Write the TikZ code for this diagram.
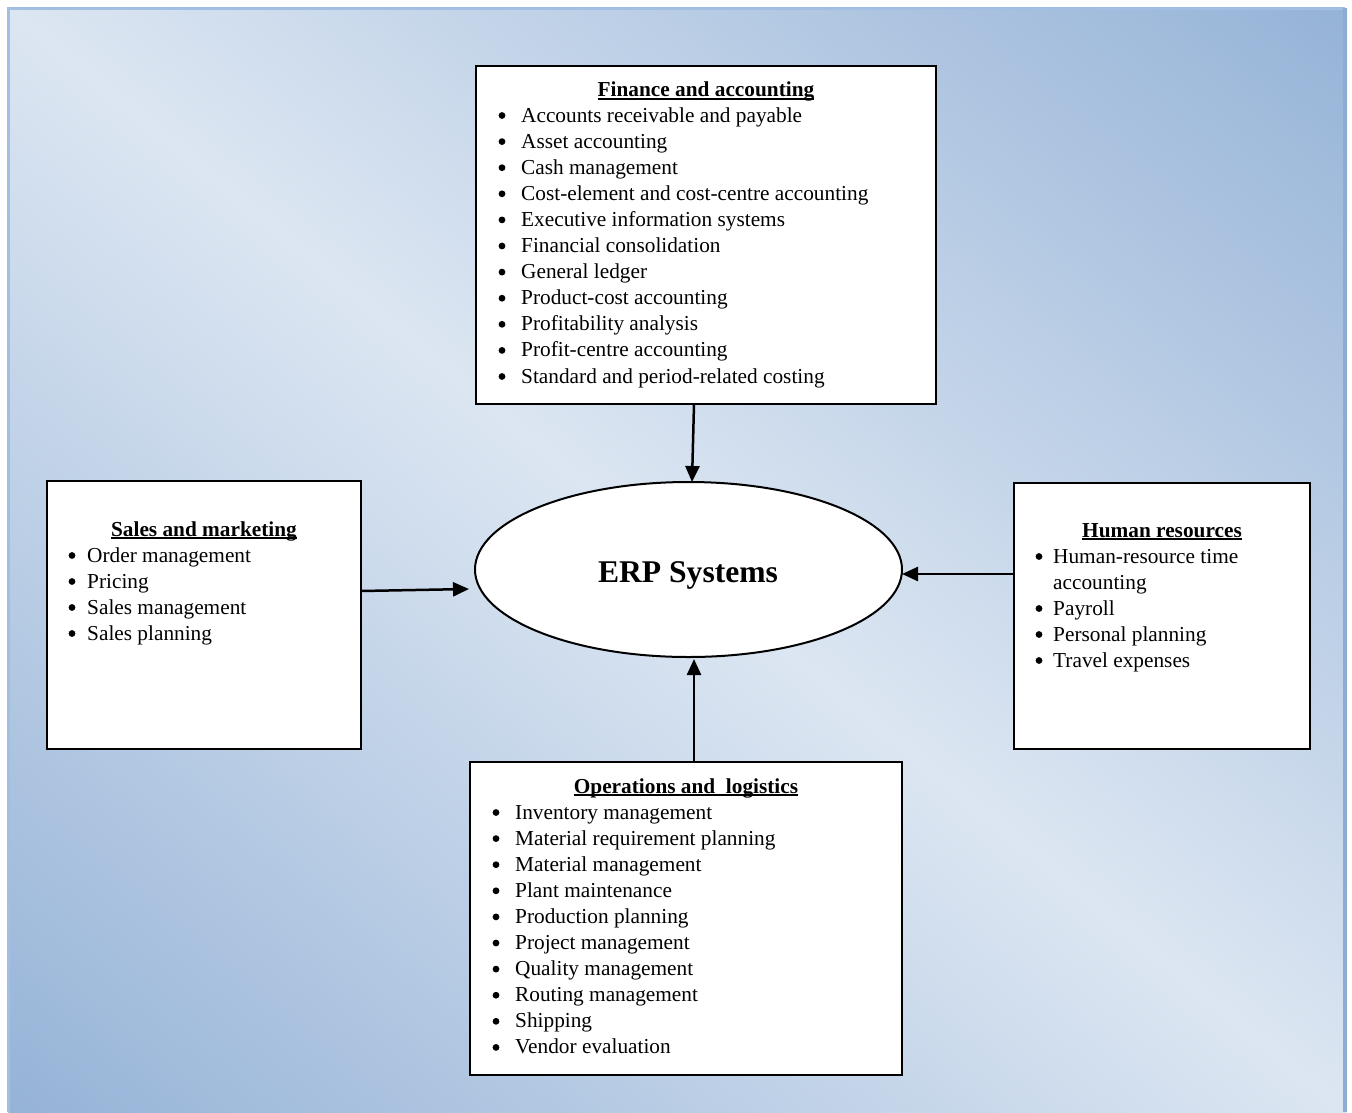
\documentclass[tikz,border=0pt]{standalone}
\usepackage{fontspec}
\setmainfont{Liberation Serif}
\usetikzlibrary{arrows.meta,shapes.geometric,calc}
\definecolor{bgdark}{HTML}{95B3D7}
\definecolor{bglight}{HTML}{DCE6F2}
\definecolor{bgedge}{HTML}{A2BEE2}
\definecolor{bgedgeR}{HTML}{8EABD3}
\newcommand\ulttl[1]{\leavevmode\setbox0\hbox{#1}\rlap{\rule[-3pt]{\wd0}{1.6pt}}\box0}
\begin{document}
\begin{tikzpicture}[x=1pt,y=-1pt,
  txt/.style={font=\fontsize{21.3pt}{26pt}\selectfont, inner sep=0pt},
  item/.style={txt, anchor=base west},
  ttl/.style={inner sep=0pt, anchor=base, font=\fontsize{21.3pt}{26pt}\selectfont\bfseries},
  panel/.style={draw=black, line width=2pt, fill=white, rectangle, inner sep=0pt, outer sep=0pt, anchor=north west},
  dot/.style={fill=black},
  link/.style={line width=2.5pt, -{Triangle[length=16pt,width=14pt]}}]

\useasboundingbox (0,0) rectangle (1352,1112);
\begin{scope}
  \clip (8,8) rectangle (1347,1112);
  \begin{scope}[transform canvas={rotate around={-39.5:(677.5,560)}}]
    \shade[top color=bgdark, bottom color=bgdark, middle color=bglight] (-202.5,-292) rectangle (1557.5,1412);
  \end{scope}
\end{scope}
\draw[bgedge, line width=3pt] (8,1112) -- (8,8) -- (1345,8);
\draw[bgedgeR, line width=4pt] (1345,8) -- (1345,1112);

% panels
\node[panel, minimum width=460pt, minimum height=338pt] (fin) at (476,66) {};
\node[panel, minimum width=314pt, minimum height=268pt] (sales) at (47,481) {};
\node[panel, minimum width=296pt, minimum height=266pt] (hr) at (1014,483) {};
\node[panel, minimum width=432pt, minimum height=313pt] (ops) at (470,762) {};

% central ellipse
\node[ellipse, draw=black, line width=2pt, fill=white, minimum width=427pt, minimum height=175pt, inner sep=0pt, outer sep=0pt] (erp) at (688.5,569.5) {};
\node[anchor=base, inner sep=0pt, font=\fontsize{31.6pt}{36pt}\selectfont\bfseries] (erpt) at (688,582) {ERP Systems};

% titles
\node[ttl] (fint) at ($(fin.north)+(0,30.5)$) {\ulttl{Finance and accounting}};
\node[ttl] (salest) at ($(sales.north)+(0,55)$) {\ulttl{Sales and marketing}};
\node[ttl] (hrt) at ($(hr.north)+(0,54)$) {\ulttl{Human resources}};
\node[ttl] (opst) at ($(ops.north)+(0,31)$) {\ulttl{Operations and\ \ logistics}};

% items
\foreach \t [count=\i] in {Accounts receivable and payable, Asset accounting, Cash management, Cost-element and cost-centre accounting, Executive information systems, Financial consolidation, General ledger, Product-cost accounting, Profitability analysis, Profit-centre accounting, Standard and period-related costing}{
  \node[item] (fin\i) at (521,{122+26.1*(\i-1)}) {\t};
  \fill[dot] ($(fin\i.base west)+(-19,-6.5)$) circle (3.4pt);
}

\foreach \t [count=\i] in {Order management, Pricing, Sales management, Sales planning}{
  \node[item] (sales\i) at (87,{562+26*(\i-1)}) {\t};
  \fill[dot] ($(sales\i.base west)+(-15,-6.5)$) circle (3.4pt);
}

\node[item] (hr1) at (1053,563) {Human-resource time};
\fill[dot] ($(hr1.base west)+(-14,-6.5)$) circle (3.4pt);
\node[item] (hr1b) at (1053,589) {accounting};
\foreach \t [count=\i] in {Payroll, Personal planning, Travel expenses}{
  \node[item] (hr\i x) at (1053,{615+26*(\i-1)}) {\t};
  \fill[dot] ($(hr\i x.base west)+(-14,-6.5)$) circle (3.4pt);
}

\foreach \t [count=\i] in {Inventory management, Material requirement planning, Material management, Plant maintenance, Production planning, Project management, Quality management, Routing management, Shipping, Vendor evaluation}{
  \node[item] (ops\i) at (515,{819+26.1*(\i-1)}) {\t};
  \fill[dot] ($(ops\i.base west)+(-19,-6.5)$) circle (3.4pt);
}

% connectors
\draw[link] ($(fin.south)+(-12,0)$) -- ($(erp.north)+(3.5,0)$);
\draw[link] ($(sales.east)+(0,-24)$) -- ($(erp.west)+(-6,19.5)$);
\draw[link] ($(hr.west)+(0,-42)$) -- ($(erp.east)+(0,4.5)$);
\draw[link] ($(ops.north)+(8,0)$) -- ($(erp.south)+(5.5,2)$);
\end{tikzpicture}
\end{document}
